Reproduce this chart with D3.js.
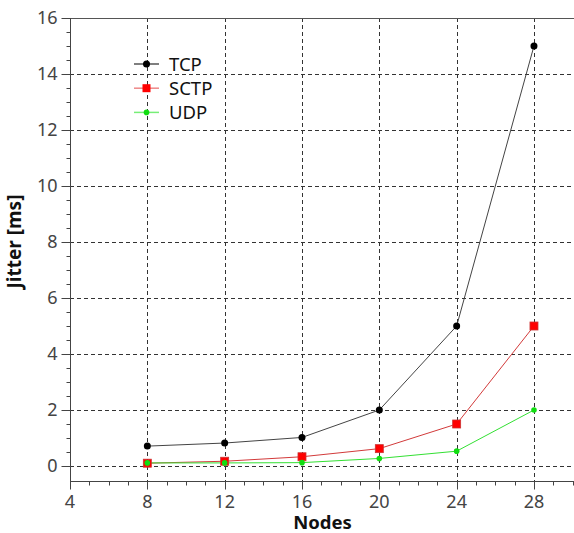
<!DOCTYPE html>
<html><head><meta charset="utf-8">
<script src="https://cdn.jsdelivr.net/npm/d3@7"></script>
<style>body{margin:0;background:#fff}svg{display:block}text{font-family:"Noto Sans","Open Sans",sans-serif}</style>
</head><body>
<script>
const nodes = [8, 12, 16, 20, 24, 28];
const tcp  = [0.71, 0.82, 1.02, 2.0, 5.0, 15.0];
const sctp = [0.10, 0.17, 0.33, 0.62, 1.5, 5.0];
const udp  = [0.11, 0.11, 0.12, 0.27, 0.53, 2.0];
const xTicks = [4, 8, 12, 16, 20, 24, 28];
const yTicks = [0, 2, 4, 6, 8, 10, 12, 14, 16];
const seriesNames = ["TCP", "SCTP", "UDP"];

const W = 574, H = 533;
const svg = d3.select("body").append("svg").attr("width", W).attr("height", H);
const pLeft = 70, pRight = 574, pTop = 18, axisY = 481;
const x = d3.scaleLinear().domain([4, 30.07]).range([pLeft, pRight]);
const y = d3.scaleLinear().domain([0, 16]).range([466, pTop]);

// grid
const gridColor = "#333";
svg.append("g").selectAll("line").data(yTicks.slice(0, -1)).join("line")
  .attr("x1", pLeft).attr("x2", pRight).attr("y1", d => Math.round(y(d)) + 0.5).attr("y2", d => Math.round(y(d)) + 0.5)
  .attr("stroke", gridColor).attr("stroke-dasharray", "4,3");
svg.append("g").selectAll("line").data(xTicks.slice(1)).join("line")
  .attr("x1", d => Math.round(x(d)) + 0.5).attr("x2", d => Math.round(x(d)) + 0.5).attr("y1", pTop).attr("y2", axisY)
  .attr("stroke", gridColor).attr("stroke-dasharray", "4,3");
// top border
svg.append("line").attr("x1", pLeft).attr("x2", pRight).attr("y1", pTop + 0.5).attr("y2", pTop + 0.5).attr("stroke", "#555");

// y axis
const yAxis = svg.append("g").attr("transform", `translate(${pLeft + 0.5},0)`);
yAxis.append("line").attr("y1", pTop).attr("y2", axisY).attr("stroke", "#444");
const yMinor = d3.range(0, 16.01, 0.5).filter(v => v % 2 !== 0);
yAxis.selectAll(".mn").data(yMinor).join("line").attr("class", "mn")
  .attr("x1", -4).attr("x2", 0).attr("y1", d => Math.round(y(d)) + 0.5).attr("y2", d => Math.round(y(d)) + 0.5).attr("stroke", "#444");
yAxis.selectAll(".mj").data(yTicks).join("line").attr("class", "mj")
  .attr("x1", -9).attr("x2", 0).attr("y1", d => Math.round(y(d)) + 0.5).attr("y2", d => Math.round(y(d)) + 0.5).attr("stroke", "#444");
yAxis.selectAll("text").data(yTicks).join("text")
  .attr("x", -13).attr("y", d => y(d)).attr("dy", "0.36em").attr("text-anchor", "end")
  .attr("font-size", 18).attr("fill", "#444").text(d => d);

// x axis
const xAxis = svg.append("g").attr("transform", `translate(0,${axisY + 0.5})`);
xAxis.append("line").attr("x1", pLeft).attr("x2", pRight).attr("stroke", "#444");
const xMinor = d3.range(4, 31, 1).filter(v => v % 4 !== 0);
xAxis.selectAll(".mn").data(xMinor).join("line").attr("class", "mn")
  .attr("x1", d => Math.round(x(d)) + 0.5).attr("x2", d => Math.round(x(d)) + 0.5).attr("y1", 0).attr("y2", 4).attr("stroke", "#444");
xAxis.selectAll(".mj").data(xTicks).join("line").attr("class", "mj")
  .attr("x1", d => Math.round(x(d)) + 0.5).attr("x2", d => Math.round(x(d)) + 0.5).attr("y1", 0).attr("y2", 8).attr("stroke", "#444");
xAxis.selectAll("text").data(xTicks).join("text")
  .attr("x", d => x(d)).attr("y", 26.5).attr("text-anchor", "middle")
  .attr("font-size", 18).attr("fill", "#444").text(d => d);

// axis titles
svg.append("text").attr("x", 322.5).attr("y", 529).attr("text-anchor", "middle")
  .attr("font-size", 18.5).attr("font-weight", "bold").attr("fill", "#111").text("Nodes");
svg.append("text").attr("transform", `translate(21,241.5) rotate(-90)`).attr("text-anchor", "middle")
  .attr("font-size", 19).attr("font-weight", "bold").attr("fill", "#111").text("Jitter [ms]");

// series
const styles = [
  {name: seriesNames[0], data: tcp, line: "#444", mark: "#000", shape: "circle", r: 3.5, lg: "#555"},
  {name: seriesNames[1], data: sctp, line: "#d23a3a", mark: "#f00", shape: "square", r: 4, lg: "#e88"},
  {name: seriesNames[2], data: udp, line: "#33e033", mark: "#1d1", shape: "circle", r: 2.8, lg: "#7e7"}
];
const lineGen = d3.line().x((d, i) => x(nodes[i])).y(d => y(d));
styles.forEach(s => {
  svg.append("path").attr("d", lineGen(s.data)).attr("fill", "none").attr("stroke", s.line).attr("stroke-width", 1);
});
styles.forEach(s => {
  const g = svg.append("g");
  if (s.shape === "circle") {
    g.selectAll("circle").data(s.data).join("circle")
      .attr("cx", (d, i) => x(nodes[i])).attr("cy", d => y(d)).attr("r", s.r).attr("fill", s.mark);
  } else {
    g.selectAll("rect").data(s.data).join("rect")
      .attr("x", (d, i) => x(nodes[i]) - s.r).attr("y", d => y(d) - s.r)
      .attr("width", 2 * s.r).attr("height", 2 * s.r).attr("fill", s.mark)
      .attr("stroke", "#c33").attr("stroke-width", 0.8);
  }
});

// legend
const lg = svg.append("g");
styles.forEach((s, i) => {
  const cy = 64 + i * 24.2;
  lg.append("line").attr("x1", 134).attr("x2", 159).attr("y1", cy).attr("y2", cy).attr("stroke", s.lg).attr("stroke-width", 1.5);
  if (s.shape === "circle") lg.append("circle").attr("cx", 146.5).attr("cy", cy).attr("r", s.r).attr("fill", s.mark);
  else lg.append("rect").attr("x", 146.5 - s.r).attr("y", cy - s.r).attr("width", 2 * s.r).attr("height", 2 * s.r).attr("fill", s.mark);
  lg.append("text").attr("x", 169).attr("y", cy).attr("dy", "0.36em").attr("font-size", 18.5).attr("fill", "#111").text(s.name);
});
</script>
</body></html>
